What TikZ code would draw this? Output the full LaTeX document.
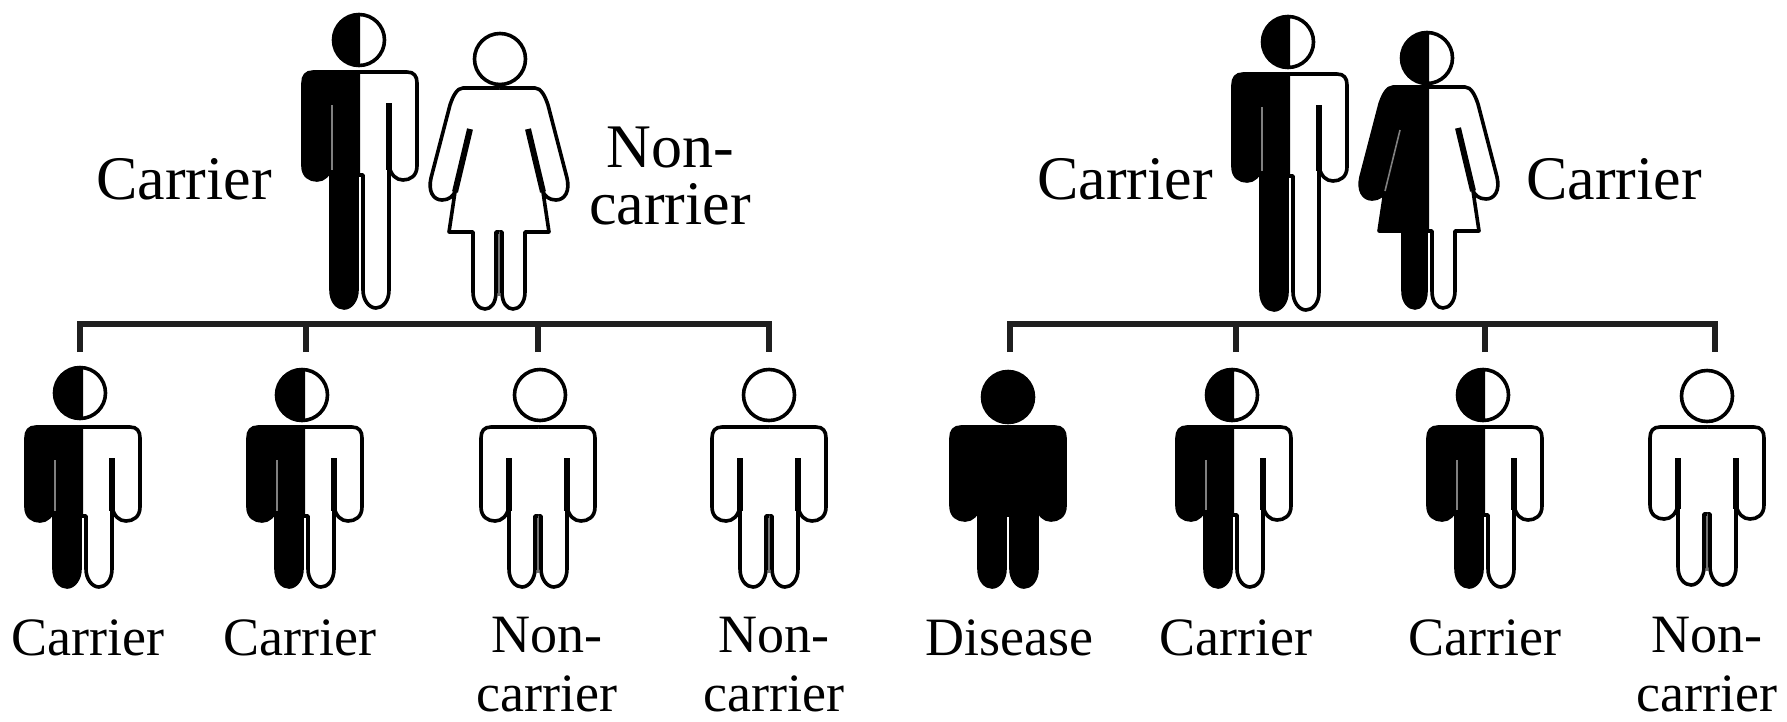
\documentclass[tikz,border=0pt]{standalone}
\usepackage{fontspec}
\setmainfont{Liberation Serif}
\tikzset{
  outline/.style={line width=3.6pt,line join=round},
  slit/.style={line width=5.6pt},
  faint/.style={line width=1.6pt,black!50},
  seam/.style={line width=2.8pt,black!55},
  link/.style={line width=5.6pt,color=black!88},
  biglabel/.style={inner sep=0pt,font=\fontsize{62}{57}\selectfont,align=center},
  smalllabel/.style={inner sep=0pt,font=\fontsize{54}{59}\selectfont,align=center}
}
\def\bk{black}\def\wh{white}
% half outlines, drawn on the +x side of the centre line; left open along the centre
\newcommand\manpath[2]{(0,0) -- (47,0) .. controls (54,0) and (57,4) .. (57,11)
  -- (57,#1-14) .. controls (57,#1-4) and (50,#1) .. (43,#1) .. controls (36,#1) and (31,#1-5) .. (29,#1-14)
  -- (29,#2-18) .. controls (29,#2-6) and (22,#2) .. (16,#2) .. controls (9,#2) and (3,#2-8) .. (3,#2-18)
  -- (3,#1-5) -- (0,#1-5)}
\newcommand\womanpath{(0,0) -- (36,0) .. controls (42,0) and (46,8) .. (49,17)
  -- (68,90) .. controls (71,103) and (66,112) .. (57,112) .. controls (50,112) and (46,108) .. (44,104)
  -- (50,144) -- (26,144) -- (26,204) .. controls (26,215) and (20,221) .. (14,221)
  .. controls (8,221) and (3,215) .. (3,204) -- (3,144) -- (0,144)}
% shared half-filled head: #1 dx, #2 cy, #3 left colour, #4 right colour
\newcommand\headshape[4]{%
  \fill[#4] (#1,#2) circle (25.5);
  \begin{scope}
    \clip (0,#2-30) rectangle (-40,#2+30);
    \fill[#3] (#1,#2) circle (25.5);
  \end{scope}
  \draw[outline] (#1,#2) circle (25.5);}
% #1 name, #2 cx, #3 shoulder y, #4 hand height, #5 leg height, #6 head dx, #7 head cy, #8 left colour, #9 right colour
\newcommand\man[9]{%
  \coordinate (#1) at (#2,#3);
  \begin{scope}[shift={(#1)}]
    \fill[#9] \manpath{#4}{#5};
    \draw[outline] \manpath{#4}{#5};
    \draw[slit] (29,31) -- (29,#4-10);
    \def\lc{#8}\def\rc{#9}%
    \ifx\lc\wh\draw[seam] (0,#4-5) -- (0,#5-14);\fi
    \begin{scope}[xscale=-1]
      \fill[#8] \manpath{#4}{#5};
      \draw[outline] \manpath{#4}{#5};
      \draw[slit] (29,31) -- (29,#4-10);
      \ifx\lc\bk\ifx\rc\wh\draw[faint] (28,33) -- (28,#4-10);\fi\fi
    \end{scope}
    \headshape{#6}{#7}{#8}{#9}
  \end{scope}}
\newcommand\woman[6]{%
  \coordinate (#1) at (#2,#3);
  \begin{scope}[shift={(#1)}]
    \fill[white] \womanpath;
    \draw[outline] \womanpath;
    \draw[line width=6pt] (29,41) -- (44,104);
    \def\lc{#6}%
    \ifx\lc\wh\draw[seam] (0,144) -- (0,208);\fi
    \begin{scope}[xscale=-1]
      \fill[#6] \womanpath;
      \draw[outline] \womanpath;
      \draw[line width=6pt] (29,41) -- (44,104);
      \ifx\lc\bk\draw[faint] (29,43) -- (44,104);\fi
    \end{scope}
    \headshape{#4}{#5}{#6}{white}
  \end{scope}}
\begin{document}
\begin{tikzpicture}[x=1pt,y=-1pt]
\useasboundingbox (0,0) rectangle (1787,721);
% left family
\man{fa}{360}{72}{108}{236}{-1}{-32}{black}{white}
\woman{ma}{499}{88}{1}{-29}{white}
\man{ka}{83}{427}{94}{160}{-3}{-34}{black}{white}
\man{kb}{305}{427}{94}{160}{-3}{-32}{black}{white}
\man{kc}{538}{427}{94}{160}{2}{-32}{white}{white}
\man{kd}{769}{427}{94}{160}{0}{-32}{white}{white}
% right family
\man{fb}{1290}{74}{107}{236}{-2}{-32}{black}{white}
\woman{mb}{1429}{87}{-2}{-29}{black}
\man{da}{1008}{427}{93}{160}{0}{-30}{black}{black}
\man{db}{1234}{427}{93}{160}{-2}{-32}{black}{white}
\man{dc}{1485}{427}{93}{160}{-2}{-32}{black}{white}
\man{dd}{1707}{427}{92}{158}{0}{-31}{white}{white}
% free ends of the connectors
\foreach \n/\x in {ta/80,tb/306,tc/538,td/769,ua/1010,ub/1236,uc/1485,ud/1715}{
  \coordinate (\n) at (\x,352);
  \coordinate (\n r) at (\x,324);
}
\draw[link] (ta) -- (tar) -- (tdr) -- (td);
\draw[link] (tb) -- (tbr);
\draw[link] (tc) -- (tcr);
\draw[link] (ua) -- (uar) -- (udr) -- (ud);
\draw[link] (ub) -- (ubr);
\draw[link] (uc) -- (ucr);
% labels
\node[biglabel,anchor=base] (l1) at (184,199) {Carrier};
\node[biglabel] (l2) at (670,176) {Non-\\carrier};
\node[biglabel,anchor=base] (l3) at (1125,199) {Carrier};
\node[biglabel,anchor=base] (l4) at (1614,199) {Carrier};
\node[smalllabel,anchor=base] (a1) at (88,655) {Carrier};
\node[smalllabel,anchor=base] (a2) at (300,655) {Carrier};
\node[smalllabel] (a3) at (547,665) {Non-\\carrier};
\node[smalllabel] (a4) at (774,665) {Non-\\carrier};
\node[smalllabel,anchor=base] (a5) at (1009,655) {Disease};
\node[smalllabel,anchor=base] (a6) at (1236,655) {Carrier};
\node[smalllabel,anchor=base] (a7) at (1485,655) {Carrier};
\node[smalllabel] (a8) at (1707,665) {Non-\\carrier};
\end{tikzpicture}
\end{document}
